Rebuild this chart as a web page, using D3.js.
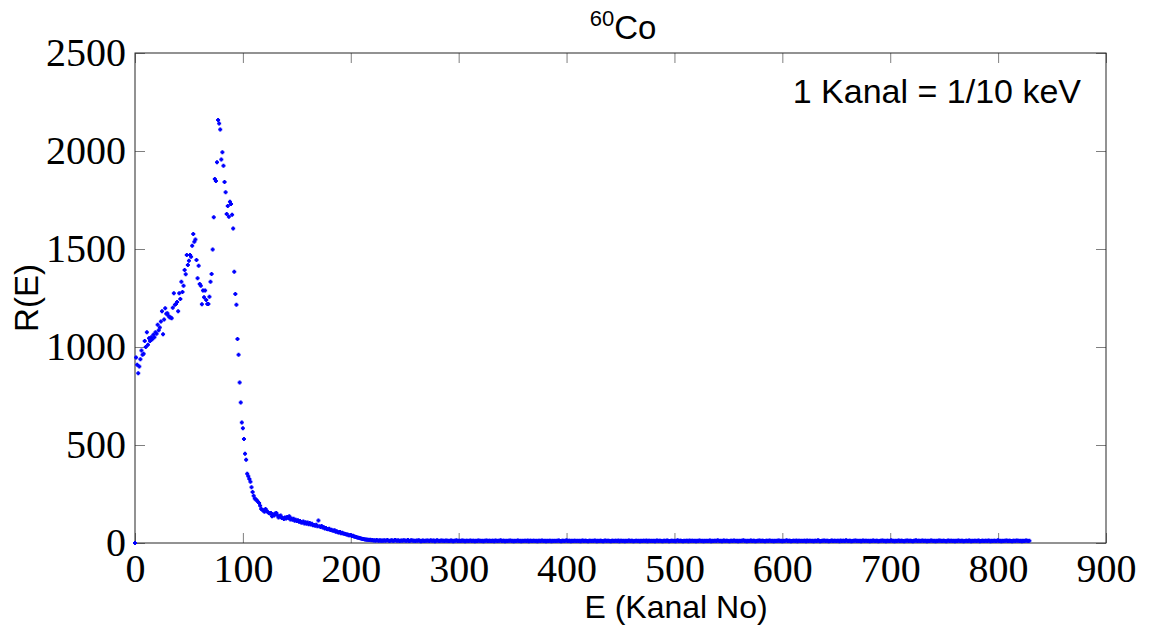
<!DOCTYPE html>
<html>
<head>
<meta charset="utf-8">
<script src="https://cdn.jsdelivr.net/npm/d3@7"></script>
<style>
  body { margin: 0; background: #fff; }
  svg { display: block; }
  .tick line { stroke: #7f7f7f; }
  .tick text { font-family: "Liberation Serif", "Times New Roman", serif; font-size: 40px; fill: #000; }
</style>
</head>
<body>
<svg id="chart" width="1155" height="629"></svg>
<script>
// spectrum of 60Co, one count value per channel
const risingStart = 0;
const risingEdge = [
  0, 946, 910, 866, 900, 938, 982, 960, 965, 1031, 1000,
  1075, 1011, 1045, 1030, 1050, 1040, 1062, 1050, 1075, 1068,
  1113, 1085, 1100, 1130, 1183, 1065, 1140, 1198, 1170, 1172,
  1160, 1152, 1150, 1147, 1200, 1274, 1215, 1220, 1230, 1183,
  1274, 1245, 1333, 1280, 1313, 1393, 1371, 1469, 1418, 1440,
  1469, 1460, 1517, 1576, 1537, 1549, 1444, 1351, 1415, 1322,
  1313, 1218, 1288, 1254, 1288, 1240, 1220, 1220, 1257, 1333,
  1373, 1498, 1662, 1857, 1847, 1942, 2158, 2140, 2110, 1957,
  1993, 1925, 1842, 1789, 1678, 1719, 1665, 1741, 1730, 1675,
  1605, 1384, 1271, 1215, 1041, 961, 819, 717, 615
];

const comptonStart = 100;
const comptonTail = [
  586, 530, 455, 425, 353, 340, 326, 312, 285, 260,
  241, 227, 222, 217, 210, 204, 190, 173, 170, 166,
  160, 173, 165, 158, 153, 150, 153, 136, 145, 140,
  150, 153, 142, 130, 136, 140, 128, 127, 122, 130,
  125, 133, 128, 136, 120, 125, 118, 124, 114, 119,
  112, 116, 108, 112, 104, 105, 110, 100, 106, 98,
  104, 96, 102, 94, 98, 90, 92, 88, 93, 86,
  115, 85, 82, 87, 79, 80, 74, 76, 72, 70,
  73, 66, 68, 64, 62, 65, 58, 60, 55, 54,
  56, 50, 52, 48, 47, 46, 43, 44, 40, 39,
  41, 36, 37, 33, 32, 30, 28, 27, 25, 24,
  22, 21, 20, 18, 18, 17, 16, 15, 16, 14,
  15, 13, 14, 12, 15, 13, 12, 14, 11, 13
];

const flatStart = 230;
const flatTail = [
  12,14,11,13,15,12,10,13,14,12,11,15,13,12,14,10,12,13,11,14,
  13,11,12,15,10,12,14,13,11,12,10,13,12,14,11,9,12,13,10,12,
  11,13,12,10,14,12,11,13,9,12,14,11,10,12,13,11,12,10,13,11,
  12,10,11,13,12,9,11,12,14,10,11,12,10,13,11,12,9,11,12,10,
  11,13,10,12,11,9,12,10,13,11,12,10,11,9,12,11,13,10,11,12,
  10,12,11,9,13,11,10,12,11,14,10,11,12,9,11,10,12,11,13,10,
  11,9,12,10,11,13,10,12,9,11,10,12,11,10,13,9,11,12,10,11,
  12,10,11,9,12,11,10,13,11,10,12,9,11,10,12,11,9,12,10,11,
  10,12,11,13,10,9,11,12,10,11,14,10,12,11,9,11,10,12,11,10,
  11,10,12,9,11,13,10,11,12,10,9,11,12,10,11,10,13,11,9,12,
  10,11,12,10,9,11,13,10,12,11,10,9,12,11,10,12,11,10,13,9,
  11,12,10,11,9,12,10,11,13,10,12,11,9,10,12,11,10,12,9,11,
  10,12,11,10,13,9,11,12,10,11,10,12,9,11,13,10,11,12,10,9,
  12,11,10,13,11,9,10,12,11,10,12,9,11,14,10,11,12,10,9,11,
  10,12,11,9,13,10,11,12,10,11,9,12,10,13,11,10,12,9,11,10,
  12,10,11,13,9,11,10,12,11,10,14,11,10,12,9,11,13,10,11,12,
  10,9,12,11,10,13,11,10,12,9,11,10,12,11,14,10,11,9,12,10,
  11,13,10,12,11,9,10,12,11,13,10,11,12,10,9,11,12,10,13,11,
  10,12,9,11,10,12,11,13,10,11,9,12,10,11,14,10,12,11,9,10,
  12,11,10,13,9,11,12,10,11,10,12,11,9,13,10,11,12,10,11,9,
  11,12,10,14,11,9,10,12,11,13,10,11,12,9,10,11,13,10,12,11,
  10,11,12,9,13,10,11,12,10,14,11,10,12,11,9,10,12,11,13,10,
  11,10,12,9,11,13,10,11,12,10,11,9,12,10,13,11,10,12,11,9,
  10,12,11,13,10,11,9,12,11,10,12,14,10,11,9,12,10,11,13,10,
  12,11,10,9,12,11,13,10,11,12,10,9,11,12,14,10,11,12,10,11,
  13,10,11,12,9,11,10,12,13,11,10,12,9,11,10,13,11,12,10,11,
  12,10,9,11,13,10,12,11,10,11,9,12,10,13,11,10,12,11,9,10,
  11,12,10,13,11,9,12,10,11,12,10,11,13,9,10,12,11,10,12,11,
  10,13,11,9,12,10,11,12,10,11,14,10,12,9,11,10,12,11,13,10,
  11,12,10,9,12,11,10,13,11,12,10,11,9,12,10,11,13,12,10,11
];

const xTicks = [0, 100, 200, 300, 400, 500, 600, 700, 800, 900];
const yTicks = [0, 500, 1000, 1500, 2000, 2500];

const titleMain = "Co";
const titleSup = "60";
const xTitle = "E (Kanal No)";
const yTitle = "R(E)";
const note = "1 Kanal = 1/10 keV";

// --- build points
const toPoints = (start, arr) => arr.map((v, i) => ({ ch: start + i, r: v }));
const points = [
  ...toPoints(risingStart, risingEdge),
  ...toPoints(comptonStart, comptonTail),
  ...toPoints(flatStart, flatTail),
];

const width = 1155, height = 629;
const margin = { top: 53, right: 49, bottom: 86, left: 135 };
const innerW = width - margin.left - margin.right;
const innerH = height - margin.top - margin.bottom;

const svg = d3.select("#chart");
const g = svg.append("g").attr("transform", `translate(${margin.left},${margin.top})`);

const x = d3.scaleLinear().domain([0, 900]).range([0, innerW]);
const y = d3.scaleLinear().domain([0, 2500]).range([innerH, 0]);

// axes, ticks point inward
g.append("g")
  .attr("transform", `translate(0,${innerH})`)
  .call(d3.axisBottom(x).tickValues(xTicks).tickSize(-10).tickPadding(11).tickFormat(d3.format("d")))
  .call((s) => s.select(".domain").remove());

g.append("g")
  .call(d3.axisLeft(y).tickValues(yTicks).tickSize(-10).tickPadding(9).tickFormat(d3.format("d")))
  .call((s) => s.select(".domain").remove());

g.append("g")
  .call(d3.axisTop(x).tickValues(xTicks).tickSize(-10).tickFormat(""))
  .call((s) => s.select(".domain").remove());

g.append("g")
  .attr("transform", `translate(${innerW},0)`)
  .call(d3.axisRight(y).tickValues(yTicks).tickSize(-10).tickFormat(""))
  .call((s) => s.select(".domain").remove());

// box
g.append("rect")
  .attr("width", innerW)
  .attr("height", innerH)
  .attr("fill", "none")
  .attr("stroke", "#262626")
  .attr("stroke-width", 1);

// data markers (small plus-like dots)
g.append("g")
  .selectAll("path.pt")
  .data(points)
  .join("path")
  .attr("class", "pt")
  .attr("transform", (d) => `translate(${x(d.ch)},${y(d.r)})`)
  .attr("d", "M-2,-1H-1V-2H1V-1H2V1H1V2H-1V1H-2Z")
  .attr("fill", "#0000ff");

// texts
const sans = "'Liberation Sans', Arial, sans-serif";

const title = svg.append("text")
  .attr("x", 623)
  .attr("y", 39)
  .attr("text-anchor", "middle")
  .attr("font-family", sans)
  .attr("font-size", 33)
  .attr("fill", "#000");
title.append("tspan").attr("font-size", 22).attr("dy", -13).text(titleSup);
title.append("tspan").attr("dy", 13).text(titleMain);

svg.append("text")
  .attr("x", 676)
  .attr("y", 618)
  .attr("text-anchor", "middle")
  .attr("font-family", sans)
  .attr("font-size", 32)
  .attr("fill", "#000")
  .text(xTitle);

svg.append("text")
  .attr("transform", `translate(38,${margin.top + innerH / 2}) rotate(-90)`)
  .attr("text-anchor", "middle")
  .attr("font-family", sans)
  .attr("font-size", 33)
  .attr("fill", "#000")
  .text(yTitle);

svg.append("text")
  .attr("x", 1081)
  .attr("y", 103)
  .attr("text-anchor", "end")
  .attr("font-family", sans)
  .attr("font-size", 34)
  .attr("fill", "#000")
  .text(note);
</script>
</body>
</html>
